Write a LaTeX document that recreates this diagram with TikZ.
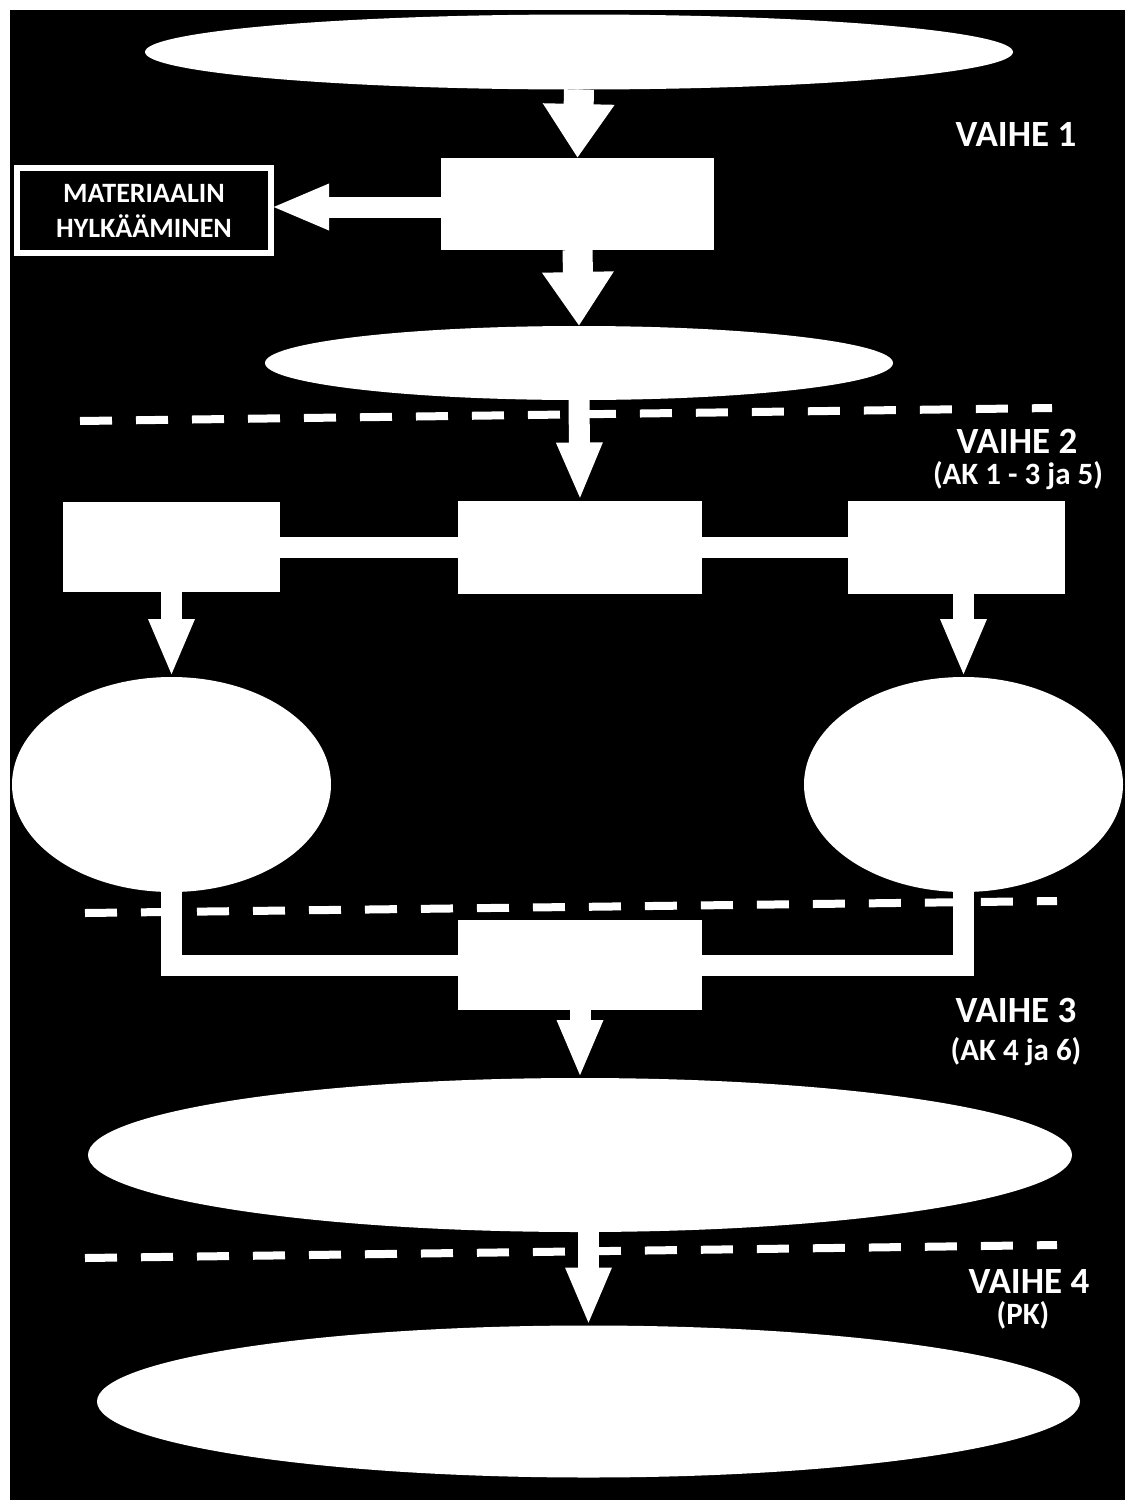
\documentclass[tikz,border=0pt]{standalone}
\usepackage{fontspec}
\setmainfont{Carlito}
\usetikzlibrary{shapes.geometric,arrows.meta,calc}
\tikzset{
  x=1pt, y=-1pt,
  blob/.style = {ellipse, fill=white, inner sep=0pt, outer sep=0pt},
  stepbox/.style = {rectangle, fill=white, inner sep=0pt, outer sep=0pt},
  rejectbox/.style = {rectangle, draw=white, line width=6pt, fill=black, text=white, align=center,
    inner sep=0pt, outer sep=0pt, font=\bfseries\fontsize{28}{35}\selectfont},
  phase/.style = {text=white, anchor=base, inner sep=0pt, font=\bfseries\fontsize{37}{44}\selectfont},
  phasenote/.style = {text=white, anchor=base, inner sep=0pt, font=\bfseries\fontsize{31}{37}\selectfont},
  flow/.style = {draw=white, line width=21pt, -{Triangle[width=42pt,length=58pt]}},
  bigflow/.style = {draw=white, line width=30pt, -{Triangle[width=68pt,length=54pt]}},
  link/.style = {draw=white, line width=21pt, line join=miter},
  divider/.style = {draw=white, line width=8pt, dash pattern=on 32pt off 24pt}
}

\begin{document}
\begin{tikzpicture}
% frame
\fill[white] (0,0) rectangle (1135,1510);
\fill[black] (10,10) rectangle (1125,1500);

% shapes
\node[blob, minimum width=868pt, minimum height=75pt] (start) at (579,52) {};
\node[stepbox, minimum width=273pt, minimum height=92pt] (check) at (577.5,204) {};
\node[rejectbox, minimum width=254pt, minimum height=85pt] (reject) at (144,210.5) {MATERIAALIN\\HYLKÄÄMINEN};
\node[blob, minimum width=628pt, minimum height=74pt] (accept) at (579,363) {};
\node[stepbox, minimum width=217pt, minimum height=90pt] (testl) at (171.5,547) {};
\node[stepbox, minimum width=244pt, minimum height=93pt] (testm) at (580,547) {};
\node[stepbox, minimum width=217pt, minimum height=93pt] (testr) at (956.5,547) {};
\node[blob, minimum width=319pt, minimum height=215pt] (resl) at (171.5,784.5) {};
\node[blob, minimum width=319pt, minimum height=215pt] (resr) at (963.5,784.5) {};
\node[stepbox, minimum width=244pt, minimum height=90pt] (merge) at (580,965) {};
\node[blob, minimum width=984pt, minimum height=154pt] (final) at (580,1155) {};
\node[blob, minimum width=983pt, minimum height=152pt] (result) at (588.5,1401.5) {};

% connectors
\draw[bigflow] (start.south) -- (check.north);
\draw[flow] (check.west |- 0,207) -- (reject.east |- 0,207);
\draw[bigflow] (check.south) -- (accept.north);
\draw[flow] (accept.south) -- (testm.north);
\draw[link] (testl.east) -- (testr.west);
\draw[flow] (testl.south) -- (resl.north);
\draw[flow] (resr.north |- testr.south) -- (resr.north);
\draw[link] (resl.south) |- (merge.west);
\draw[link] (resr.south) |- (merge.east);
\draw[flow] (merge.south) -- (final.north);
\draw[flow] (result.north |- final.south) -- (result.north);

% phase borders
\coordinate (d1a) at (80,421);   \coordinate (d1b) at (1052,408);
\coordinate (d2a) at (85,913);   \coordinate (d2b) at (1057,901);
\coordinate (d3a) at (85,1258);  \coordinate (d3b) at (1057,1245);
\draw[divider] (d1a) -- (d1b);
\draw[divider] (d2a) -- (d2b);
\draw[divider] (d3a) -- (d3b);

% phase labels
\node[phase] (v1) at (1016,146) {VAIHE 1};
\node[phase] (v2) at (1017,453) {VAIHE 2};
\node[phasenote] (v2n) at (1018,484) {(AK 1 - 3 ja 5)};
\node[phase] (v3) at (1016,1022) {VAIHE 3};
\node[phasenote] (v3n) at (1016,1060) {(AK 4 ja 6)};
\node[phase] (v4) at (1029,1293) {VAIHE 4};
\node[phasenote] (v4n) at (1023,1324) {(PK)};
\end{tikzpicture}
\end{document}
